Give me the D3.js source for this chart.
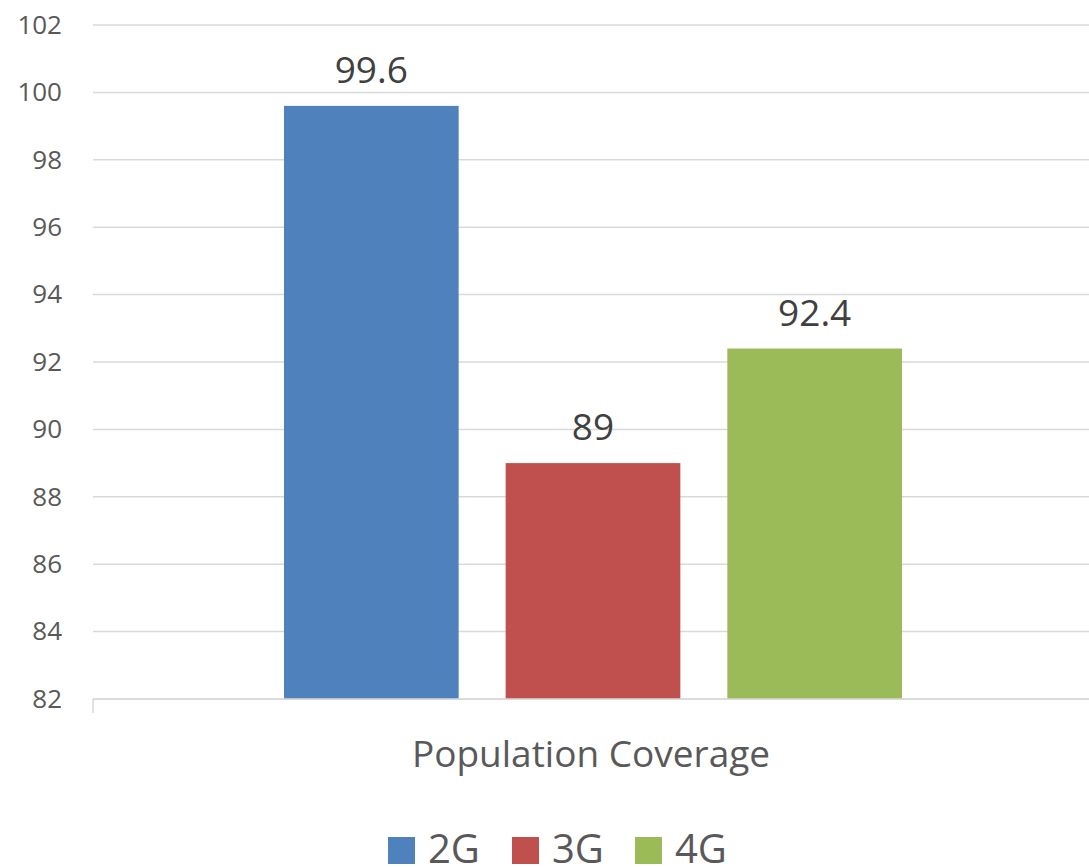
<!DOCTYPE html>
<html>
<head>
<meta charset="utf-8">
<script src="https://cdn.jsdelivr.net/npm/d3@7"></script>
<style>
  body { margin: 0; background: #fff; }
  text { font-family: "Open Sans", sans-serif; }
</style>
</head>
<body>
<div id="chart"></div>
<script>
const categories = ['Population Coverage'];
const series = ['2G', '3G', '4G'];
const values = [99.6, 89, 92.4];
const colors = ['#4F81BD', '#C0504D', '#9BBB59'];
const yTicks = [82, 84, 86, 88, 90, 92, 94, 96, 98, 100, 102];

const width = 1089, height = 867;
const margin = { top: 25, right: 0, bottom: 168, left: 93 };

const svg = d3.select('#chart').append('svg')
    .attr('width', width)
    .attr('height', height);

const y = d3.scaleLinear()
    .domain([82, 102])
    .range([height - margin.bottom, margin.top]);

// the plot area runs a little past the right edge of the picture
const x0 = d3.scaleBand()
    .domain(categories)
    .range([margin.left, width + 4])
    .paddingInner(0)
    .paddingOuter(0.309);

const x1 = d3.scaleBand()
    .domain(series)
    .range([0, x0.bandwidth()])
    .paddingInner(0.212)
    .paddingOuter(0);

// gridlines
svg.append('g')
    .selectAll('line')
    .data(yTicks)
    .enter().append('line')
    .attr('x1', margin.left)
    .attr('x2', width - margin.right)
    .attr('y1', d => y(d))
    .attr('y2', d => y(d))
    .attr('stroke', '#d9d9d9')
    .attr('stroke-width', 1.5);

// y axis labels
const yAxis = d3.axisLeft(y).tickValues(yTicks).tickSize(0).tickPadding(31);
svg.append('g')
    .attr('transform', `translate(${margin.left},0)`)
    .call(yAxis)
    .call(g => g.select('.domain').remove())
    .selectAll('text')
    .attr('font-size', 26)
    .attr('fill', '#595959')
    .attr('font-family', '"Open Sans", sans-serif');

// bars
const group = svg.append('g')
    .attr('transform', `translate(${x0(categories[0])},0)`);

group.selectAll('rect')
    .data(series)
    .enter().append('rect')
    .attr('x', d => x1(d))
    .attr('width', x1.bandwidth())
    .attr('y', (d, i) => y(values[i]))
    .attr('height', (d, i) => y(82) - y(values[i]))
    .attr('fill', (d, i) => colors[i]);

group.selectAll('.label')
    .data(series)
    .enter().append('text')
    .attr('class', 'label')
    .attr('x', d => x1(d) + x1.bandwidth() / 2)
    .attr('y', (d, i) => y(values[i]) - 23)
    .attr('text-anchor', 'middle')
    .attr('font-size', 37)
    .attr('fill', '#404040')
    .text((d, i) => values[i]);

// x axis line and ticks
const xAxisY = y(82);
svg.append('line')
    .attr('x1', margin.left).attr('x2', width - margin.right)
    .attr('y1', xAxisY).attr('y2', xAxisY)
    .attr('stroke', '#d9d9d9').attr('stroke-width', 1.5);
[margin.left].forEach(xp => {
    svg.append('line')
        .attr('x1', xp).attr('x2', xp)
        .attr('y1', xAxisY).attr('y2', xAxisY + 14)
        .attr('stroke', '#d9d9d9').attr('stroke-width', 1.5);
});

svg.append('text')
    .attr('x', margin.left + (width - margin.left) / 2)
    .attr('y', xAxisY + 68)
    .attr('text-anchor', 'middle')
    .attr('font-size', 37)
    .attr('fill', '#595959')
    .text(categories[0]);

// legend
const legendX = [388, 512, 635];
const legend = svg.append('g');
series.forEach((s, i) => {
    legend.append('rect')
        .attr('x', legendX[i]).attr('y', 837)
        .attr('width', 27).attr('height', 27)
        .attr('fill', colors[i]);
    legend.append('text')
        .attr('x', legendX[i] + 40).attr('y', 863)
        .attr('font-size', 40)
        .attr('fill', '#595959')
        .text(s);
});
</script>
</body>
</html>
